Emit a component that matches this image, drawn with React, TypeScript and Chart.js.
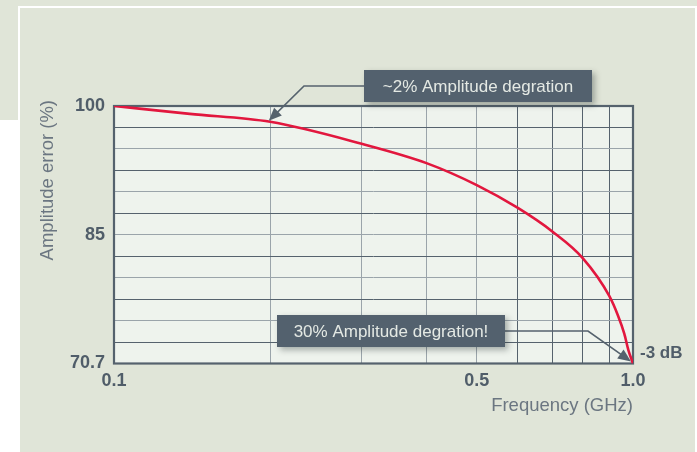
import React, { useEffect, useRef } from "react";
import { Chart, registerables } from "chart.js";

Chart.register(...registerables);

// ---- data ----
const frequencies = [0.1, 0.14, 0.2, 0.3, 0.4, 0.5, 0.6, 0.7, 0.8, 0.9, 0.935, 0.962, 0.98, 1.0];
const amplitudes = [100, 99.1, 98.2, 95.7, 93.5, 91.0, 88.4, 85.7, 82.7, 78.4, 76.2, 74.1, 72.2, 70.7];
const xTickValues = [0.1, 0.2, 0.3, 0.4, 0.5, 0.6, 0.7, 0.8, 0.9, 1.0];
const xTickLabels = ["0.1", "", "", "", "0.5", "", "", "", "", "1.0"];
const yMin = 70.7;
const yMax = 100;
const yDivisions = 12;
const yTickLabels = ["70.7", "", "", "", "", "", "85", "", "", "", "", "", "100"];
const calloutTexts = ["~2% Amplitude degration", "30% Amplitude degration!"];
const calloutTargets = [
  { x: 0.2, y: 98.2 },
  { x: 1.0, y: 70.7 },
];
const dbLabel = "-3 dB";
const xTitle = "Frequency (GHz)";
const yTitle = "Amplitude error (%)";

// ---- styles ----
const FONT = "'Liberation Sans', Arial, Helvetica, sans-serif";
const PANEL = "#e0e5d8";
const PLOT_BG = "#eef3ed";
const DARK = "#55626d";
const LIGHT = "#9aa4aa";
const TEXT = "#505d69";
const TITLE = "#6b7681";
const BOX = "#53616e";
const RED = "#e2173e";

function drawCallout(
  ctx: CanvasRenderingContext2D,
  box: { x: number; y: number; w: number; h: number },
  text: string,
  path: { x: number; y: number }[],
  tip: { x: number; y: number }
) {
  // leader line
  const last = path[path.length - 1];
  const ang = Math.atan2(tip.y - last.y, tip.x - last.x);
  const headLen = 13;
  const headHalf = 5.5;
  const baseX = tip.x - Math.cos(ang) * headLen;
  const baseY = tip.y - Math.sin(ang) * headLen;
  ctx.save();
  ctx.strokeStyle = DARK;
  ctx.lineWidth = 1.6;
  ctx.beginPath();
  ctx.moveTo(path[0].x, path[0].y);
  for (let i = 1; i < path.length; i++) ctx.lineTo(path[i].x, path[i].y);
  ctx.lineTo(baseX + Math.cos(ang) * 2, baseY + Math.sin(ang) * 2);
  ctx.stroke();
  ctx.fillStyle = DARK;
  ctx.beginPath();
  ctx.moveTo(tip.x, tip.y);
  ctx.lineTo(baseX - Math.sin(ang) * headHalf, baseY + Math.cos(ang) * headHalf);
  ctx.lineTo(baseX + Math.sin(ang) * headHalf, baseY - Math.cos(ang) * headHalf);
  ctx.closePath();
  ctx.fill();
  ctx.restore();

  // box with shadow
  ctx.save();
  ctx.shadowColor = "rgba(30,40,40,0.35)";
  ctx.shadowBlur = 6;
  ctx.shadowOffsetX = 3;
  ctx.shadowOffsetY = 3;
  ctx.fillStyle = BOX;
  ctx.fillRect(box.x, box.y, box.w, box.h);
  ctx.restore();

  ctx.save();
  ctx.fillStyle = "#e4e9e4";
  ctx.font = `17px ${FONT}`;
  ctx.textAlign = "center";
  ctx.textBaseline = "middle";
  ctx.fillText(text, box.x + box.w / 2, box.y + box.h / 2 + 1);
  ctx.restore();
}

const decorPlugin = {
  id: "decor",
  beforeDraw(chart: any) {
    const { ctx, chartArea, width, height } = chart;
    ctx.save();
    ctx.fillStyle = "#ffffff";
    ctx.fillRect(0, 0, width, height);
    ctx.fillStyle = PANEL;
    ctx.fillRect(0, 0, width, 6);
    ctx.fillRect(0, 0, 18, 120);
    ctx.fillRect(20, 8, 675, height - 8);
    ctx.fillStyle = PLOT_BG;
    ctx.fillRect(chartArea.left, chartArea.top, chartArea.right - chartArea.left, chartArea.bottom - chartArea.top);
    ctx.restore();
  },
  beforeDatasetsDraw(chart: any) {
    const { ctx, chartArea } = chart;
    ctx.save();
    ctx.strokeStyle = DARK;
    ctx.lineWidth = 2.2;
    ctx.strokeRect(chartArea.left, chartArea.top, chartArea.right - chartArea.left, chartArea.bottom - chartArea.top);
    ctx.restore();
  },
  afterDatasetsDraw(chart: any) {
    const { ctx } = chart;
    const xs = chart.scales.x;
    const ys = chart.scales.y;

    // y axis title
    ctx.save();
    ctx.translate(48, 100);
    ctx.rotate(-Math.PI / 2);
    ctx.fillStyle = TITLE;
    ctx.font = `18.5px ${FONT}`;
    ctx.textAlign = "right";
    ctx.textBaseline = "middle";
    ctx.fillText(yTitle, 0, 0);
    ctx.restore();

    const t1 = {
      x: xs.getPixelForValue(calloutTargets[0].x) - 1.5,
      y: ys.getPixelForValue(calloutTargets[0].y) - 1,
    };
    drawCallout(
      ctx,
      { x: 364, y: 70, w: 228, h: 32 },
      calloutTexts[0],
      [
        { x: 364, y: 86 },
        { x: 304, y: 86 },
      ],
      t1
    );

    const t2 = {
      x: xs.getPixelForValue(calloutTargets[1].x) - 2,
      y: ys.getPixelForValue(calloutTargets[1].y) - 2,
    };
    drawCallout(
      ctx,
      { x: 277, y: 315, w: 228, h: 32 },
      calloutTexts[1],
      [
        { x: 505, y: 331 },
        { x: 588, y: 331 },
      ],
      t2
    );

    // -3 dB label
    ctx.save();
    ctx.fillStyle = TEXT;
    ctx.font = `bold 17px ${FONT}`;
    ctx.textAlign = "left";
    ctx.textBaseline = "middle";
    ctx.fillText(dbLabel, t2.x + 9, t2.y - 8);
    ctx.restore();
  },
};

export default function App() {
  const ref = useRef<HTMLCanvasElement | null>(null);

  useEffect(() => {
    document.body.style.margin = "0";
    const canvas = ref.current;
    if (!canvas) return;
    const chart = new Chart(canvas, {
      type: "line",
      data: {
        datasets: [
          {
            data: frequencies.map((f, i) => ({ x: f, y: amplitudes[i] })),
            borderColor: RED,
            borderWidth: 2.6,
            pointRadius: 0,
            fill: false,
            cubicInterpolationMode: "monotone",
          },
        ],
      },
      options: {
        animation: false,
        responsive: false,
        devicePixelRatio: 1,
        layout: { padding: { left: 20, right: 64, top: 106, bottom: 35 } },
        plugins: {
          legend: { display: false },
          tooltip: { enabled: false },
        },
        scales: {
          x: {
            type: "logarithmic",
            min: 0.1,
            max: 1.0,
            afterBuildTicks: (s: any) => {
              s.ticks = xTickValues.map((v) => ({ value: v }));
            },
            afterFit: (s: any) => {
              s.height = 53.5;
            },
            grid: {
              drawTicks: false,
              lineWidth: 1,
              color: (c: any) => (c.index >= 1 && c.index <= 4 ? LIGHT : DARK),
            },
            border: { display: false },
            ticks: {
              autoSkip: false,
              maxRotation: 0,
              padding: 7,
              color: TEXT,
              font: { family: FONT, size: 18, weight: "bold" },
              callback: (_v: any, i: number) => xTickLabels[i],
            },
            title: {
              display: true,
              text: xTitle,
              align: "end",
              color: TITLE,
              font: { family: FONT, size: 18.5 },
              padding: { top: 0, bottom: 0 },
            },
          },
          y: {
            type: "linear",
            min: yMin,
            max: yMax,
            afterBuildTicks: (s: any) => {
              const step = (yMax - yMin) / yDivisions;
              const t = [];
              for (let i = 0; i <= yDivisions; i++) t.push({ value: yMin + i * step });
              s.ticks = t;
            },
            afterFit: (s: any) => {
              s.width = 94;
            },
            grid: {
              drawTicks: false,
              lineWidth: 1,
              color: (c: any) => (c.index % 2 === 1 ? DARK : LIGHT),
            },
            border: { display: false },
            ticks: {
              autoSkip: false,
              padding: 9,
              color: TEXT,
              font: { family: FONT, size: 18, weight: "bold" },
              callback: (_v: any, i: number) => yTickLabels[i],
            },
          },
        },
      },
      plugins: [decorPlugin],
    } as any);
    return () => chart.destroy();
  }, []);

  return (
    <div style={{ position: "relative", width: 697, height: 452 }}>
      <canvas ref={ref} width={697} height={452} style={{ display: "block" }} />
    </div>
  );
}
